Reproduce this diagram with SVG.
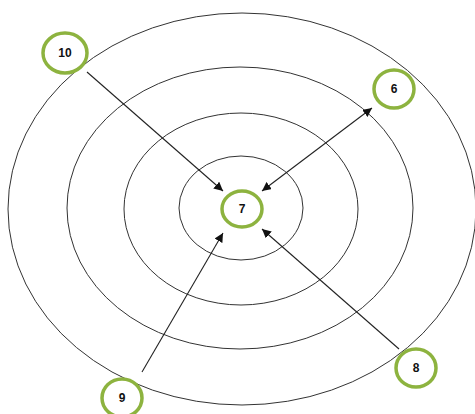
<svg xmlns="http://www.w3.org/2000/svg" width="475" height="414" viewBox="0 0 475 414">
<style>
.ring{fill:none;stroke:#333;stroke-width:1}
.node ellipse{fill:#fff;stroke:#8db33f;stroke-width:3.5}
.node text{font-family:"Liberation Sans",Arial,sans-serif;font-size:12px;font-weight:bold;fill:#111;text-anchor:middle;dominant-baseline:central}
.conn line{stroke:#222;stroke-width:1.1}
</style>
<defs>
<marker id="ah" viewBox="0 0 10 10" refX="10" refY="5" markerWidth="9" markerHeight="9" markerUnits="userSpaceOnUse" orient="auto-start-reverse">
<path d="M0,0 L10,5 L0,10 z" fill="#111"/>
</marker>
</defs>
<rect width="475" height="414" fill="#fff"/>
<g id="rings">
<ellipse class="ring" cx="242" cy="209" rx="234" ry="196"/>
<ellipse class="ring" cx="240" cy="208" rx="173" ry="141"/>
<ellipse class="ring" cx="241" cy="209" rx="117" ry="96"/>
<ellipse class="ring" cx="241" cy="208" rx="62" ry="52"/>
</g>
<g id="connectors" class="conn">
<line x1="87" y1="72" x2="223" y2="191" marker-end="url(#ah)"/>
<line x1="262" y1="191" x2="372" y2="108" marker-start="url(#ah)" marker-end="url(#ah)"/>
<line x1="142" y1="372" x2="223" y2="233" marker-end="url(#ah)"/>
<line x1="399" y1="349" x2="262" y2="229" marker-end="url(#ah)"/>
</g>
<g id="node10" class="node"><ellipse cx="65" cy="53" rx="22" ry="20"/><text x="65" y="53">10</text></g>
<g id="node6" class="node"><ellipse cx="394" cy="89" rx="20" ry="19"/><text x="394" y="89">6</text></g>
<g id="node7" class="node"><ellipse cx="242" cy="209" rx="20" ry="18"/><text x="242" y="209">7</text></g>
<g id="node8" class="node"><ellipse cx="416" cy="368" rx="20" ry="19"/><text x="416" y="368">8</text></g>
<g id="node9" class="node"><ellipse cx="122" cy="398" rx="20" ry="19"/><text x="122" y="398">9</text></g>
</svg>
